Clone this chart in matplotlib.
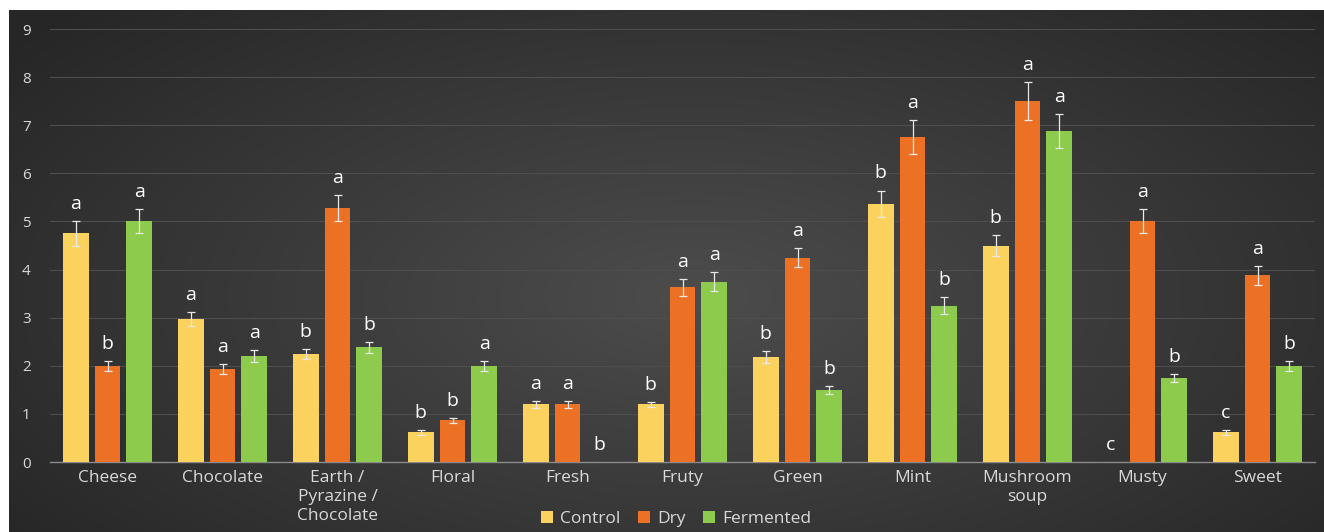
import numpy as np
import matplotlib.pyplot as plt

plt.rcParams["font.family"] = ["Open Sans", "DejaVu Sans"]

CONTROL_C = "#FCD25E"
DRY_C     = "#EC7125"
FERM_C    = "#8CCB4B"
TEXT_C    = "#D9D9D9"

categories = ["Cheese", "Chocolate", "Earth /\nPyrazine /\nChocolate", "Floral", "Fresh",
              "Fruty", "Green", "Mint", "Mushroom\nsoup", "Musty", "Sweet"]

control     = [4.75, 2.97, 2.25, 0.62, 1.20, 1.20, 2.18, 5.37, 4.50, 0.00, 0.62]
dry         = [2.00, 1.93, 5.28, 0.87, 1.20, 3.63, 4.25, 6.75, 7.50, 5.00, 3.88]
fermented   = [5.00, 2.20, 2.38, 2.00, 0.00, 3.75, 1.50, 3.25, 6.88, 1.75, 2.00]

control_err = [0.25, 0.15, 0.10, 0.05, 0.07, 0.05, 0.12, 0.27, 0.22, 0.00, 0.05]
dry_err     = [0.10, 0.10, 0.27, 0.05, 0.07, 0.18, 0.20, 0.35, 0.40, 0.25, 0.20]
ferm_err    = [0.25, 0.12, 0.12, 0.10, 0.00, 0.20, 0.08, 0.17, 0.35, 0.08, 0.10]

control_lbl = ["a", "a", "b", "b", "a", "b", "b", "b", "b", "c", "c"]
dry_lbl     = ["b", "a", "a", "b", "a", "a", "a", "a", "a", "a", "a"]
ferm_lbl    = ["a", "a", "b", "a", "b", "a", "b", "b", "a", "b", "b"]

W, H = 1324, 532
fig = plt.figure(figsize=(W / 100, H / 100), dpi=100)
fig.patch.set_facecolor("white")

# ── dark radial background panel ──────────────────────────────────────
bg = fig.add_axes([9 / W, 0, 1 - 9 / W, 1 - 10 / H])
yy, xx = np.mgrid[0:1:300j, 0:1:600j]
r = np.sqrt(((xx - 0.52) / 0.75) ** 2 + ((yy - 0.45) / 0.9) ** 2)
shade = np.clip(0.30 - 0.17 * r, 0.15, 0.30)
bg.imshow(np.dstack([shade] * 3), aspect="auto", extent=[0, 1, 0, 1], origin="lower")
bg.set_axis_off()

# ── bars ───────────────────────────────────────────────────────────────
ax = fig.add_axes([50 / W, 1 - 462 / H, 1265 / W, 433 / H])
ax.patch.set_alpha(0)

x = np.arange(len(categories))
bw = 0.226
step = 0.278
series = [
    (control, control_err, control_lbl, CONTROL_C, "Control", -step),
    (dry, dry_err, dry_lbl, DRY_C, "Dry", 0.0),
    (fermented, ferm_err, ferm_lbl, FERM_C, "Fermented", step),
]

for vals, errs, lbls, col, name, off in series:
    ax.bar(x + off, vals, bw, color=col, label=name, zorder=3)
    ex = [xi + off for xi, v in zip(x, vals) if v > 0]
    ev = [v for v in vals if v > 0]
    ee = [e for v, e in zip(vals, errs) if v > 0]
    ax.errorbar(ex, ev, yerr=ee, fmt="none", ecolor="#E8E8E8", elinewidth=0.9,
                capsize=3, capthick=0.9, zorder=4)
    for xi, v, e, l in zip(x, vals, errs, lbls):
        ax.text(xi + off, v + e + 0.17, l, ha="center", va="bottom",
                fontsize=14, color="white", zorder=5)

ax.set_xlim(-0.5, len(categories) - 0.5)
ax.set_ylim(0, 9)
ax.set_yticks(range(10))
ax.set_xticks(x)
ax.set_xticklabels(categories, fontsize=12.5, color=TEXT_C, linespacing=1.22)
ax.tick_params(axis="y", labelsize=11, colors=TEXT_C, length=0, pad=14)
ax.tick_params(axis="x", length=0, pad=6)
for s in ["top", "right", "left"]:
    ax.spines[s].set_visible(False)
ax.spines["bottom"].set_color("#8A8A8A")
ax.spines["bottom"].set_linewidth(1.0)
ax.set_axisbelow(True)
ax.yaxis.grid(True, color="#4E4E4E", linewidth=0.8, zorder=0)

leg = fig.legend(*ax.get_legend_handles_labels(), loc="center", ncol=3,
                 bbox_to_anchor=(676 / W, 1 - 519 / H), frameon=False,
                 fontsize=12.5, handlelength=0.7, handleheight=0.7,
                 handletextpad=0.4, columnspacing=1.0)
for t in leg.get_texts():
    t.set_color(TEXT_C)

fig.savefig("out.png", dpi=100)
